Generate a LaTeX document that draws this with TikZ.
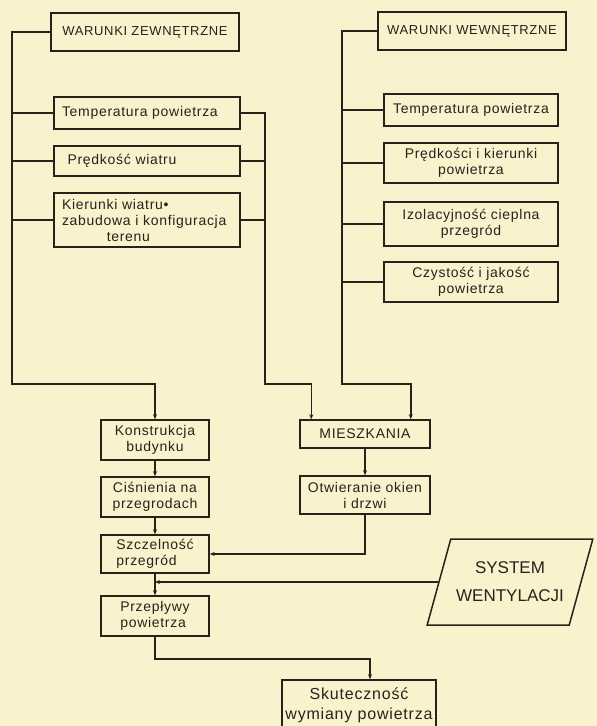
\documentclass[tikz,border=0pt]{standalone}
\usepackage{fontspec}
\setmainfont{Liberation Sans}
\newfontfamily\hand[LetterSpace=5]{Liberation Sans}
\usetikzlibrary{arrows.meta,shapes.geometric}
\definecolor{paper}{RGB}{250,242,204}
\definecolor{ink}{RGB}{38,34,28}

\begin{document}
\begin{tikzpicture}[x=1pt,y=-1pt,
					>={Stealth[length=5pt,width=4pt]},
					line width=1.5pt,
					color=ink,
					every node/.style={font=\hand\fontsize{14}{16}\selectfont},
					box/.style={rectangle,draw,inner sep=2pt,align=center},
					head box/.style={box,minimum width=188,minimum height=38,font=\hand\fontsize{13}{15}\selectfont},
					zew box/.style={box,inner xsep=8pt,text width=170pt,align=left},
					wew box/.style={box,minimum width=174},
					small box/.style={box,minimum width=108,minimum height=40},
					mid box/.style={box,minimum width=130}]

  \fill[paper] (0,0) rectangle (597,726);
  \useasboundingbox (0,0) rectangle (597,726);

  % warunki zewnetrzne
  \node[head box] (wz) at (145,32) {WARUNKI ZEWNĘTRZNE};
  \node[zew box,minimum height=32] (tz) at (147,113) {Temperatura powietrza};
  \node[zew box,minimum height=30] (pz) at (147,161) {\hspace*{0.4em}Prędkość wiatru};
  \node[zew box,minimum height=54] (kz) at (147,220) {Kierunki wiatru•\\zabudowa i konfiguracja\\\hspace*{3.2em}terenu};

  % warunki wewnetrzne
  \node[head box] (ww) at (472,31) {WARUNKI WEWNĘTRZNE};
  \node[wew box,minimum height=32] (tw) at (471,110) {Temperatura powietrza};
  \node[wew box,minimum height=40] (pw) at (471,163) {Prędkości i kierunki\\powietrza};
  \node[wew box,minimum height=44] (iw) at (471,224) {Izolacyjność cieplna\\przegród};
  \node[wew box,minimum height=40] (cw) at (471,282) {Czystość i jakość\\powietrza};

  % lancuch
  \node[small box] (kb) at (155,440) {Konstrukcja\\budynku};
  \node[small box] (cp) at (155,497) {Ciśnienia na\\przegrodach};
  \node[small box,minimum height=38,align=left] (sp) at (155,554) {Szczelność\\przegród};
  \node[small box,align=left] (pp) at (155,616) {Przepływy\\powietrza};

  \node[mid box,minimum height=28] (mi) at (365,434) {MIESZKANIA};
  \node[mid box,minimum height=38] (ot) at (365,495) {Otwieranie okien\\i drzwi};

  \node[trapezium,draw,trapezium left angle=64,trapezium right angle=116,
        trapezium stretches=true,minimum width=166,minimum height=86,
        align=center,font=\fontsize{17}{28}\selectfont] (sw) at (510,582) {SYSTEM\\WENTYLACJI};

  \node[box,minimum width=154,minimum height=50,font=\hand\fontsize{16}{20}\selectfont] (sk) at (359,705) {Skuteczność\\wymiany powietrza};

  \coordinate (lb) at (12,384);
  \coordinate (mb) at (265,384);
  \coordinate (wb) at (342,384);

  \draw[->] (wz.west) -| (lb) -| (kb.north);
  \foreach \n in {tz,pz,kz}
    \draw (\n.west) -- (\n.west -| lb);
  \draw[->] (tz.east) -| (mb) -| ([xshift=12pt]mi.north west);
  \foreach \n in {pz,kz}
    \draw (\n.east) -- (\n.east -| mb);
  \draw[->] (ww.west) -| (wb) -| ([xshift=-20pt]mi.north east);
  \foreach \n in {tw,pw,iw,cw}
    \draw (\n.west) -- (\n.west -| wb);

  \draw[->] (kb) -- (cp);
  \draw[->] (cp) -- (sp);
  \draw[->] (sp) -- (pp);
  \draw[->] (mi) -- (ot);
  \draw[->] (ot.south) |- (sp.east);
  \draw[->] (sw.west) -- (sp.south |- sw.west);
  \draw[->] (pp.south) -- ++(0,22) -| ([xshift=11pt]sk.north);
\end{tikzpicture}
\end{document}
